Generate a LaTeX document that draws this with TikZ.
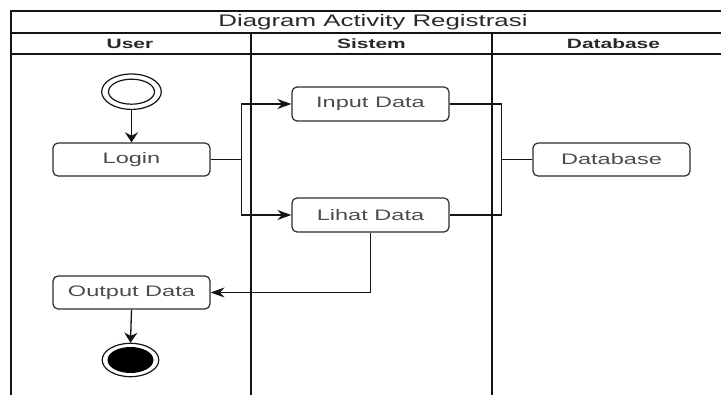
\documentclass[tikz,border=0pt]{standalone}
\usepackage{fontspec}
\setmainfont{Liberation Sans}
\usepackage{graphicx}
\usetikzlibrary{arrows.meta,shapes.geometric}

\definecolor{inkline}{RGB}{20,20,20}
\definecolor{boxline}{RGB}{45,45,45}
\definecolor{boxtext}{RGB}{75,75,75}
\definecolor{headtext}{RGB}{40,40,40}

% wide lettering used throughout the swimlane diagram
\newcommand{\wtext}[1]{\scalebox{1.55}[1]{#1}}

\begin{document}
\begin{tikzpicture}[x=1pt,y=-1pt,
  lane/.style={draw=inkline, line width=1.5pt},
  act/.style={draw=boxline, line width=1.2pt, rounded corners=5pt,
    minimum width=157pt, minimum height=33pt, inner sep=0pt,
    text=boxtext, font=\fontsize{15.2}{18}\selectfont},
  flow/.style={draw=inkline, line width=1.3pt},
  varrow/.style={flow, -{Stealth[length=10pt,width=13pt]}},
  harrow/.style={flow, -{Stealth[length=14pt,width=10pt]}},
  ring/.style={ellipse, draw=inkline, line width=1.2pt, inner sep=0pt},
  hdr/.style={text=headtext, font=\bfseries\fontsize{13.5}{16}\selectfont},
  ttl/.style={text=headtext, font=\fontsize{16.7}{19}\selectfont}
]
\useasboundingbox (0,0) rectangle (721,395);
\clip (0,0) rectangle (721,395);

% pool frame and lanes
\draw[lane] (11,400) -- (11,11) -- (740,11);
\draw[lane] (11,33) -- (740,33);
\draw[lane] (11,54) -- (740,54);
\draw[lane] (251,33) -- (251,400);
\draw[lane] (492,33) -- (492,400);

\node[ttl] (title) at (373,22) {\wtext{Diagram Activity Registrasi}};
\node[hdr] (huser) at (130,43.5) {\wtext{User}};
\node[hdr] (hsys) at (371.5,43.5) {\wtext{Sistem}};
\node[hdr] (hdb) at (613.5,43.5) {\wtext{Database}};

% initial node
\node[ring, fill=white, minimum width=59.6pt, minimum height=35.4pt] (start) at (131.5,91.7) {};
\node[ring, minimum width=46pt, minimum height=25pt] (startin) at (131.5,91.7) {};

% activities
\node[act] (login) at (131.5,159.5) {\wtext{Login}};
\node[act, minimum height=34pt] (input) at (370.5,104) {\wtext{Input Data}};
\node[act, minimum height=34pt] (lihat) at (370.5,215) {\wtext{Lihat Data}};
\node[act] (db) at (611.5,159.5) {\wtext{Database}};
\node[act] (output) at (131.5,292.5) {\wtext{Output Data}};

% final node
\node[ring, fill=white, minimum width=56.6pt, minimum height=33.4pt] (final) at (130.5,360) {};
\node[ellipse, fill=black, inner sep=0pt, minimum width=46pt, minimum height=26pt] (finalin) at (130.5,360) {};

% join point toward the database lane
\coordinate (join) at (501.7,159.5);

% flows
\draw[varrow] (start.south) -- (login.north);
\draw[harrow] (login.east) -- ++(30.7,0) |- (input.west);
\draw[harrow] (login.east) -- ++(30.7,0) |- (lihat.west);
\draw[flow] (input.east) -| (join);
\draw[flow] (lihat.east) -| (join);
\draw[flow] (join) -- (db.west);
\draw[harrow] (lihat.south) |- (output.east);
\draw[varrow] (output.south) -- (final.north);
\end{tikzpicture}
\end{document}
